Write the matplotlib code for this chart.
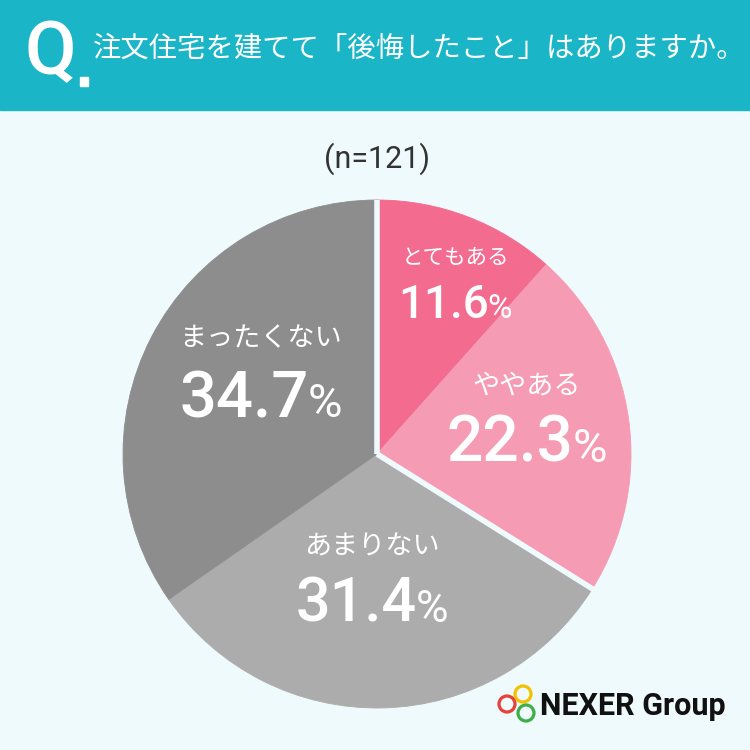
import matplotlib
matplotlib.use("Agg")
import matplotlib.pyplot as plt
from matplotlib.patches import Rectangle, Circle
import numpy as np

plt.rcParams['font.family'] = ['Noto Sans CJK JP', 'DejaVu Sans']

# ---- data ----
title = "注文住宅を建てて「後悔したこと」はありますか。"
n_label = "(n=121)"
categories = ["とてもある", "ややある", "あまりない", "まったくない"]
values = [11.6, 22.3, 31.4, 34.7]
groups = ["yes", "yes", "no", "no"]

# ---- style ----
BG = "#eefafb"
HEAD = "#1bb5c8"
colors = ["#f36b8f", "#f59cb4", "#acacac", "#8d8d8d"]
W = H = 750

fig = plt.figure(figsize=(7.5, 7.5), dpi=100, facecolor=BG)

# pie axes (center 377,454 radius 254 in pixels)
cx, cy, r = 377, 454, 254
ax = fig.add_axes([(cx - r) / W, (H - cy - r) / H, 2 * r / W, 2 * r / H])
wedges, _ = ax.pie(values, colors=colors, startangle=90, counterclock=False,
                   radius=1, wedgeprops=dict(linewidth=0.6))
for w, c in zip(wedges, colors):
    w.set_edgecolor(c)
ax.set_xlim(-1.0, 1.0)
ax.set_ylim(-1.0, 1.0)
ax.set_aspect('equal')
ax.axis('off')

# separators between groups
cum = np.concatenate([[0], np.cumsum(values)])
for i in range(len(values)):
    if groups[i] != groups[i - 1]:
        th = np.deg2rad(90 - cum[i] / sum(values) * 360)
        ax.plot([0, 1.05 * np.cos(th)], [0, 1.05 * np.sin(th)], color=BG,
                lw=4.0, solid_capstyle='butt', zorder=5)

# overlay in pixel coords
ov = fig.add_axes([0, 0, 1, 1], facecolor='none')
ov.set_xlim(0, W)
ov.set_ylim(H, 0)
ov.axis('off')

ov.add_patch(Rectangle((0, 0), W, 110, color=HEAD, zorder=1))
ov.text(50, 74, "Q", color="white", fontsize=54, fontweight='medium',
        family=['Roboto', 'DejaVu Sans'], ha='center', va='baseline', zorder=3)
ov.add_patch(Rectangle((80, 77), 8, 9, color="white", zorder=3))
ov.text(93, 49, title, color="white", fontsize=20.4, ha='left', va='center', zorder=3)

ov.text(377, 159, n_label, color="#333333", fontsize=22, ha='center', va='center',
        family=['Roboto', 'DejaVu Sans'])

renderer = fig.canvas.get_renderer()

# label layout: (center x, name y, number y, name size, number size, pct size)
layout = [
    (455, 258, 302, 15.5, 33, 24),
    (527, 386, 439, 19.5, 46, 34),
    (372, 547, 600, 19.5, 44, 32),
    (261, 339, 394, 19.5, 47, 34),
]
numfont = ['Roboto', 'DejaVu Sans']
for cat, v, (lx, ny, vy, s1, s2, s3) in zip(categories, values, layout):
    ov.text(lx, ny, cat, color="white", fontsize=s1, ha='center', va='center', zorder=6)
    t1 = ov.text(0, vy, f"{v:.1f}", color="white", fontsize=s2, family=numfont,
                 fontweight='medium', ha='left', va='baseline', zorder=6)
    t2 = ov.text(0, vy, "%", color="white", fontsize=s3, family=numfont,
                 fontweight='regular', ha='left', va='baseline', zorder=6)
    w1 = t1.get_window_extent(renderer).width
    w2 = t2.get_window_extent(renderer).width
    gap = -1
    total = w1 + gap + w2
    x0 = lx - total / 2
    cap = s2 * 100 / 72 * 0.71
    base = vy + cap / 2
    t1.set_position((x0, base))
    t2.set_position((x0 + w1 + gap, base))

# logo
ring_specs = [((523, 694), "#f2c200"), ((507, 704), "#e5423a"), ((526, 713), "#3fae49")]
for (x, y), c in ring_specs:
    ov.add_patch(Circle((x, y), 8, fill=False, edgecolor=c, lw=2.3, zorder=4))
ov.text(540, 706, "NEXER Group", color="#111111", fontsize=22, fontweight='bold',
        family=['Roboto', 'DejaVu Sans'], ha='left', va='center', zorder=4)

fig.savefig("out.png", dpi=100, facecolor=BG)
